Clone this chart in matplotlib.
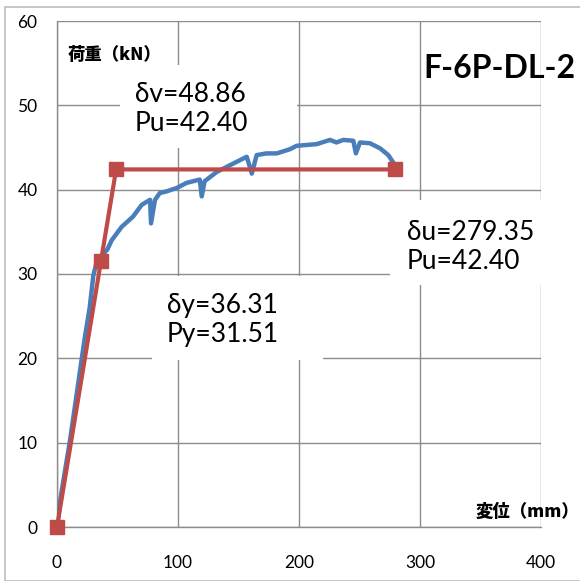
import matplotlib
matplotlib.use('Agg')
import matplotlib.pyplot as plt
from matplotlib.patches import Rectangle

# load-displacement curve
disp = [0, 3, 7, 11, 15, 19, 23, 27, 30, 33, 37, 41.6, 45.2, 53.5, 62.8, 70, 76.9, 77.7,
        81, 85, 90.6, 99, 107, 118, 119.6, 122, 132, 145.7, 156.8, 161, 165, 173,
        181.6, 192.6, 198, 214.6, 225.6, 231, 236.6, 244.9, 247, 250.4, 258.7, 267,
        273.8, 278, 279.3]
load = [0, 3.5, 7, 10.5, 14.5, 18.5, 22.5, 26, 29.8, 31.5, 32.2, 32.9, 34.0, 35.6, 36.8,
        38.2, 38.8, 36.0, 38.8, 39.6, 39.8, 40.2, 40.8, 41.2, 39.2, 41.0, 42.1, 43.1,
        43.9, 41.9, 44.1, 44.3, 44.3, 44.8, 45.2, 45.4, 45.9, 45.6, 45.9, 45.8, 44.3,
        45.6, 45.5, 44.9, 44.1, 43.2, 42.4]

# bilinear model
model_d = [0, 36.31, 48.86, 279.35]
model_p = [0, 31.51, 42.40, 42.40]

xticks = [0, 100, 200, 300, 400]
yticks = [0, 10, 20, 30, 40, 50, 60]

blue = '#4A7EBB'
red = '#BE4B48'
grid_c = '#8C8C8C'
font = ['Lato', 'DejaVu Sans']
jp = ['Noto Sans CJK JP', 'DejaVu Sans']

fig = plt.figure(figsize=(5.8, 5.81), dpi=100)
ax = fig.add_axes([57/580, 1 - 527/581, (541 - 57)/580, (527 - 21)/581])

# outer chart frame
fig.patches.append(Rectangle((5/580, 0), 1.2, 1 - 7/581, transform=fig.transFigure,
                             facecolor='none', edgecolor='#BDBDBD', linewidth=1.2))

ax.set_xlim(0, 400)
ax.set_ylim(0, 60)
ax.set_xticks(xticks)
ax.set_yticks(yticks)
ax.tick_params(length=0, labelsize=12.5, colors='black')
ax.tick_params(axis='x', pad=20)
ax.tick_params(axis='y', pad=14)
for lab in ax.get_xticklabels() + ax.get_yticklabels():
    lab.set_family(font)
ax.grid(True, color=grid_c, linewidth=1.0, zorder=0)
ax.set_axisbelow(True)
for s in ['top', 'right']:
    ax.spines[s].set_visible(False)
for s in ['left', 'bottom']:
    ax.spines[s].set_color(grid_c)
    ax.spines[s].set_linewidth(1.0)

ax.plot(disp, load, color=blue, linewidth=3.2, zorder=3, solid_joinstyle='round')
ax.plot(model_d, model_p, color=red, linewidth=3.0, marker='s', markersize=10,
        zorder=4, clip_on=False)

# white label boxes covering the grid
boxes = [(52, 45.0, 146.3, 9.8), (78.5, 19.8, 141.3, 10.0), (275, 28.7, 145, 10.1)]
for bx, by, bw, bh in boxes:
    ax.add_patch(Rectangle((bx, by), bw, bh, facecolor='white', edgecolor='none',
                           zorder=2, clip_on=False))

ax.text(64.5, 49.6, 'δv=48.86\nPu=42.40', fontsize=19, family=font, va='center',
        ha='left', linespacing=1.2, zorder=5)
ax.text(91, 24.5, 'δy=36.31\nPy=31.51', fontsize=19, family=font, va='center',
        ha='left', linespacing=1.2, zorder=5)
ax.text(289, 33.15, 'δu=279.35\nPu=42.40', fontsize=19, family=font, va='center',
        ha='left', linespacing=1.2, zorder=5)

fig.text(423/580, 1 - 68/581, 'F-6P-DL-2', fontsize=23, fontweight='bold',
         family=font, va='center', ha='left')
fig.text(68/580, 1 - 55/581, '荷重（kN）', fontsize=12.5, fontweight='heavy', family=jp,
         va='center', ha='left')
fig.text(476/580, 1 - 512/581, '変位（mm）', fontsize=12.5, fontweight='heavy', family=jp,
         va='center', ha='left')

fig.savefig('out.png', dpi=100)
